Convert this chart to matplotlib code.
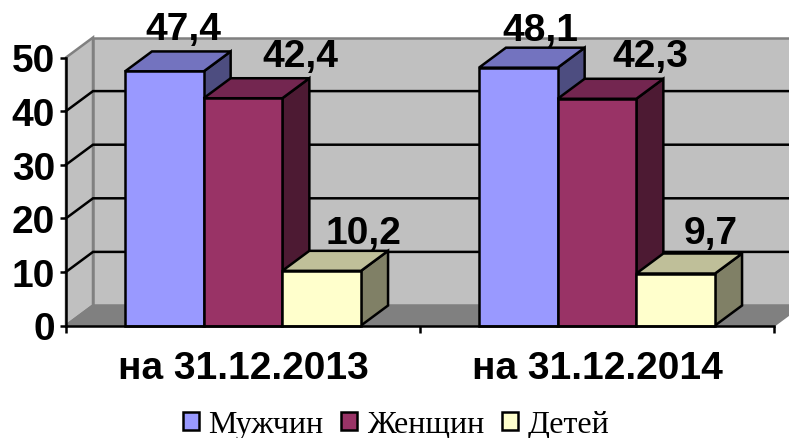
import matplotlib
matplotlib.use('Agg')
import matplotlib.pyplot as plt
import matplotlib.patches as mpatches
import matplotlib.ticker as mticker

categories = ['на 31.12.2013', 'на 31.12.2014']
series_names = ['Мужчин', 'Женщин', 'Детей']
men = [47.4, 48.1]
women = [42.4, 42.3]
children = [10.2, 9.7]
value_labels = [['47,4', '48,1'], ['42,4', '42,3'], ['10,2', '9,7']]
yticks = [0, 10, 20, 30, 40, 50]

front_colors = ['#9999FF', '#993366', '#FFFFCC']
top_colors = ['#7373BF', '#732650', '#BFBF99']
side_colors = ['#4D4D80', '#4D1A33', '#808066']

# label offsets from the front left-top corner of each bar, in pixels
label_offsets = [[(58, 32), (61, 28)], [(97, 32), (93, 33)], [(81, 28), (74, 31)]]

W, H = 789, 439
fig = plt.figure(figsize=(W / 100, H / 100), dpi=100)
ax = fig.add_axes([66 / W, 1 - 326.5 / H, 708 / W, 268 / H])
ax.set_xlim(0, 2)
ax.set_ylim(0, 50)
ax.patch.set_visible(False)

# depth of the fake 3d box, in data units
dx = 27 / 354
dy = 20 / 5.36
bar_w = 78.7 / 354
line_w = 1.8

# walls and floor
side_wall = mpatches.Polygon([(0, 0), (dx, dy), (dx, 50 + dy), (0, 50)], fc='#C0C0C0',
                             ec='#808080', lw=line_w, clip_on=False, zorder=1)
back_wall = mpatches.Rectangle((dx, dy), 2, 50, fc='#C0C0C0', ec='#808080', lw=line_w,
                               clip_on=False, zorder=1)
floor = mpatches.Polygon([(0, 0), (dx, dy), (2 + dx, dy), (2, 0)], fc='#808080',
                         ec='#808080', lw=line_w, clip_on=False, zorder=1)
ax.add_patch(side_wall)
ax.add_patch(back_wall)
ax.add_patch(floor)

for v in yticks[1:-1]:
    ax.plot([0, dx, 2 + dx], [v, v + dy, v + dy], color='black', lw=line_w,
            clip_on=False, zorder=2, solid_joinstyle='miter')

all_values = [men, women, children]
z = 5
for cat in range(len(categories)):
    for s in range(len(series_names)):
        val = all_values[s][cat]
        x0 = cat + 0.5 + (s - 1.5) * bar_w
        x1 = x0 + bar_w
        side = mpatches.Polygon([(x1, 0), (x1 + dx, dy), (x1 + dx, val + dy), (x1, val)],
                                fc=side_colors[s], ec='black', lw=line_w, clip_on=False, zorder=z)
        top = mpatches.Polygon([(x0, val), (x0 + dx, val + dy), (x1 + dx, val + dy), (x1, val)],
                               fc=top_colors[s], ec='black', lw=line_w, clip_on=False, zorder=z)
        ax.add_patch(side)
        ax.add_patch(top)
        ax.bar(x0, val, width=bar_w, align='edge', color=front_colors[s], edgecolor='black',
               linewidth=line_w, zorder=z + 0.5, clip_on=False)
        ax.annotate(value_labels[s][cat], xy=(x0, val), xytext=label_offsets[s][cat],
                    textcoords='offset pixels', ha='center', va='baseline', fontsize=28,
                    fontweight='bold', family='Liberation Sans', zorder=20, annotation_clip=False)
        z += 1

for name in ['top', 'right']:
    ax.spines[name].set_visible(False)
for name in ['left', 'bottom']:
    ax.spines[name].set_linewidth(line_w)
    ax.spines[name].set_zorder(30)

ax.set_yticks(yticks)
ax.set_xticks([0, 1, 2])
ax.xaxis.set_major_formatter(mticker.NullFormatter())
ax.set_xticks([0.5, 1.5], minor=True)
ax.set_xticklabels(categories, minor=True)
ax.tick_params(axis='x', which='major', length=5, width=line_w)
ax.tick_params(axis='x', which='minor', length=0, pad=18, labelsize=28)
ax.tick_params(axis='y', length=4, width=line_w, pad=4, labelsize=28)
for lab in ax.get_yticklabels() + ax.get_xticklabels(minor=True):
    lab.set_fontfamily('Liberation Sans')
    lab.set_fontweight('bold')

handles = [mpatches.Patch(fc=c, ec='black', lw=line_w) for c in front_colors]
fig.legend(handles, series_names, loc='center', bbox_to_anchor=(396 / W, 1 - 426 / H), ncol=3,
           frameon=False, prop={'family': 'Liberation Serif', 'size': 23},
           handlelength=0.5, handleheight=0.5, handletextpad=0.3, columnspacing=0.55,
           borderpad=0, borderaxespad=0)

fig.savefig('out.png', dpi=100)
